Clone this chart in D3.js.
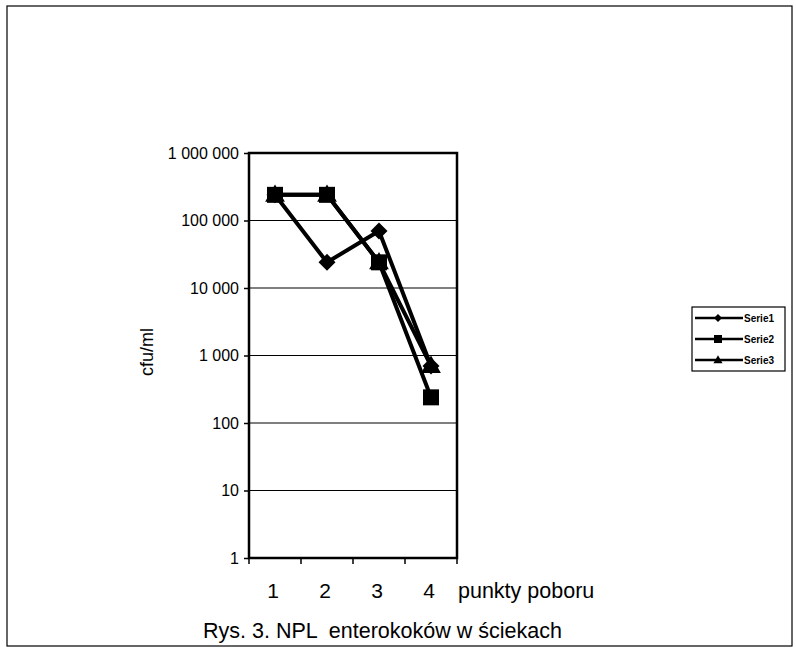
<!DOCTYPE html>
<html>
<head>
<meta charset="utf-8">
<script src="https://cdn.jsdelivr.net/npm/d3@7"></script>
<style>
  body { margin: 0; background: #fff; }
  svg text { font-family: "Liberation Sans", Arial, sans-serif; fill: #000; }
</style>
</head>
<body>
<div id="chart"></div>
<script>
// Data
const categories = ["1", "2", "3", "4"];
const seriesNames = ["Serie1", "Serie2", "Serie3"];
const serie1 = [240000, 24000, 70000, 700];
const serie2 = [240000, 240000, 24000, 240];
const serie3 = [240000, 240000, 24000, 700];
const yTicks = [1, 10, 100, 1000, 10000, 100000, 1000000];

// Excel-like markers (size = square area)
const diamond = {
  draw(context, size) {
    const r = Math.sqrt(size) * 0.5;
    context.moveTo(0, -r);
    context.lineTo(r, 0);
    context.lineTo(0, r);
    context.lineTo(-r, 0);
    context.closePath();
  },
};
const square = {
  draw(context, size) {
    const h = Math.sqrt(size) / 2;
    context.rect(-h, -h, 2 * h, 2 * h);
  },
};
const triangle = {
  draw(context, size) {
    const s = Math.sqrt(size);
    context.moveTo(0, -0.6 * s);
    context.lineTo(0.57 * s, 0.4 * s);
    context.lineTo(-0.57 * s, 0.4 * s);
    context.closePath();
  },
};
const shapes = [diamond, square, triangle];

const series = [serie1, serie2, serie3].map((values, i) => ({
  name: seriesNames[i],
  shape: shapes[i],
  values: values.map((v, j) => ({ cat: categories[j], v })),
}));

const width = 796;
const height = 649;
const plot = { left: 249, right: 457, top: 153, bottom: 558 };

const svg = d3.select("#chart").append("svg")
  .attr("width", width)
  .attr("height", height);

// outer frame
svg.append("rect")
  .attr("x", 7).attr("y", 6)
  .attr("width", 785).attr("height", 640)
  .attr("fill", "none").attr("stroke", "#000").attr("stroke-width", 1.2);

// Scales
const xScale = d3.scaleBand()
  .domain(categories)
  .range([plot.left, plot.right]);

const yScale = d3.scaleLog()
  .domain([1, 1000000])
  .range([plot.bottom, plot.top]);

const fmt = (d) => d3.format(",")(d).replace(/,/g, " ");

// gridlines
svg.append("g")
  .selectAll("line")
  .data(yTicks)
  .join("line")
  .attr("x1", plot.left).attr("x2", plot.right)
  .attr("y1", (d) => yScale(d)).attr("y2", (d) => yScale(d))
  .attr("stroke", "#000").attr("stroke-width", 1.2);

// plot frame
svg.append("rect")
  .attr("x", plot.left).attr("y", plot.top)
  .attr("width", plot.right - plot.left).attr("height", plot.bottom - plot.top)
  .attr("fill", "none").attr("stroke", "#000").attr("stroke-width", 2.5);

// Axes
const yAxis = d3.axisLeft(yScale)
  .tickValues(yTicks)
  .tickFormat(fmt)
  .tickSize(5)
  .tickPadding(5);

const yAxisGroup = svg.append("g")
  .attr("transform", `translate(${plot.left},0)`)
  .call(yAxis);
yAxisGroup.select(".domain").remove();
yAxisGroup.selectAll("line").attr("stroke-width", 1.5);
yAxisGroup.selectAll("text")
  .style("font-size", "16px")
  .style("font-family", "Liberation Sans, Arial, sans-serif");

// x category ticks at band edges
svg.append("g")
  .selectAll("line")
  .data(categories.concat(["end"]))
  .join("line")
  .attr("x1", (d, i) => plot.left + i * xScale.bandwidth())
  .attr("x2", (d, i) => plot.left + i * xScale.bandwidth())
  .attr("y1", plot.bottom).attr("y2", plot.bottom + 6)
  .attr("stroke", "#000").attr("stroke-width", 1.5);

svg.append("g")
  .selectAll("text")
  .data(categories)
  .join("text")
  .attr("x", (d) => xScale(d) + xScale.bandwidth() / 2 - 2)
  .attr("y", 598)
  .attr("text-anchor", "middle")
  .style("font-size", "21px")
  .text((d) => d);

svg.append("text")
  .attr("x", 458).attr("y", 598)
  .style("font-size", "21.5px")
  .text("punkty poboru");

svg.append("text")
  .attr("transform", "translate(153,352) rotate(-90)")
  .attr("text-anchor", "middle")
  .style("font-size", "18px")
  .text("cfu/ml");

svg.append("text")
  .attr("x", 203).attr("y", 638)
  .style("font-size", "21.5px")
  .attr("xml:space", "preserve")
  .text("Rys. 3. NPL  enterokoków w ściekach");

// Lines
const lineGenerator = d3.line()
  .x((d) => xScale(d.cat) + xScale.bandwidth() / 2)
  .y((d) => yScale(d.v));

const seriesGroup = svg.append("g");

series.forEach((s) => {
  seriesGroup.append("path")
    .datum(s.values)
    .attr("d", lineGenerator)
    .attr("fill", "none")
    .attr("stroke", "#000")
    .attr("stroke-width", 4)
    .attr("stroke-linejoin", "round");
});

// markers: diamonds first, then triangles, squares on top
const sizes = { Serie1: 289, Serie2: 256, Serie3: 300 };
[series[0], series[2], series[1]].forEach((s) => {
  seriesGroup.append("g")
    .selectAll("path")
    .data(s.values)
    .join("path")
    .attr("transform", (d) =>
      `translate(${xScale(d.cat) + xScale.bandwidth() / 2},${yScale(d.v)})`)
    .attr("d", d3.symbol().type(s.shape).size(sizes[s.name]))
    .attr("fill", "#000");
});

// Legend
const legend = svg.append("g");
legend.append("rect")
  .attr("x", 692).attr("y", 307)
  .attr("width", 93).attr("height", 64)
  .attr("fill", "none").attr("stroke", "#000").attr("stroke-width", 1.2);

const legendY = d3.scalePoint()
  .domain(seriesNames)
  .range([318, 360]);

const legendItem = legend.selectAll("g.item")
  .data(series)
  .join("g")
  .attr("class", "item")
  .attr("transform", (d) => `translate(0,${legendY(d.name)})`);

legendItem.append("line")
  .attr("x1", 695).attr("x2", 743)
  .attr("stroke", "#000").attr("stroke-width", 2.5);

legendItem.append("path")
  .attr("transform", "translate(718,0)")
  .attr("d", (d) => d3.symbol().type(d.shape).size(64)());

legendItem.append("text")
  .attr("x", 744).attr("y", 4)
  .style("font-size", "10px")
  .style("font-weight", "bold")
  .text((d) => d.name);
</script>
</body>
</html>
